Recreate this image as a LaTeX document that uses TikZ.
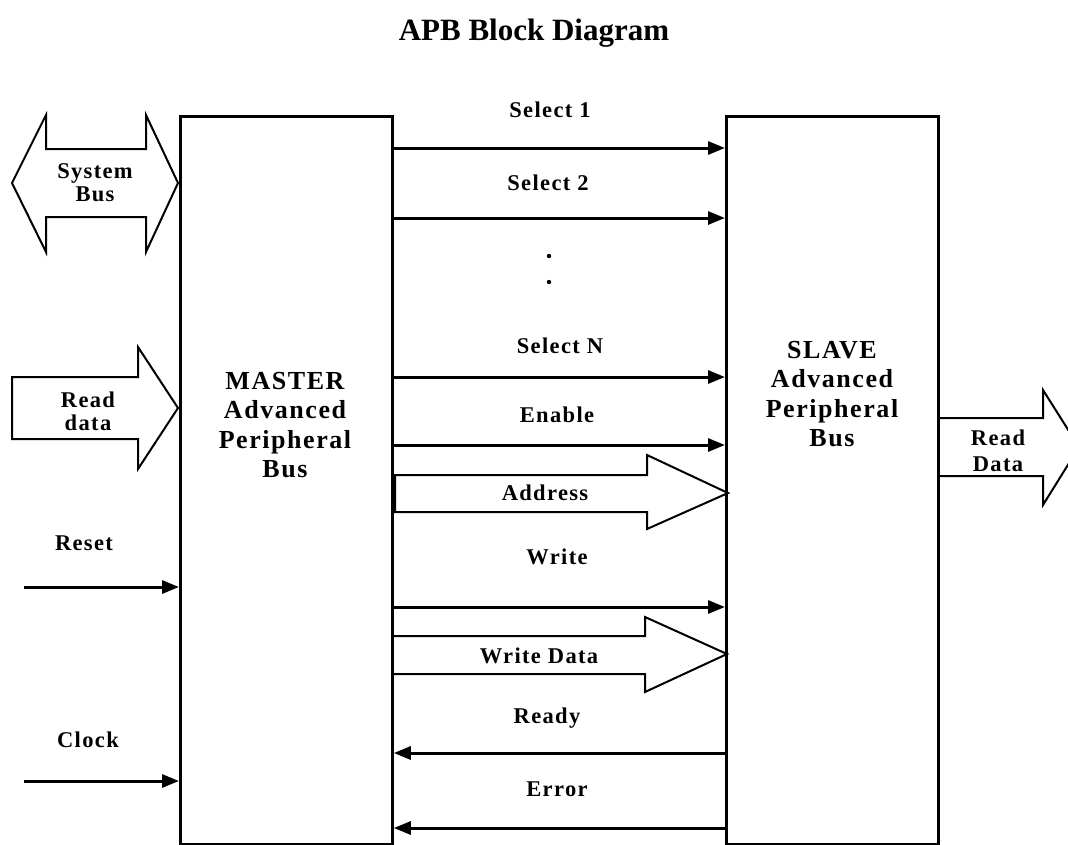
\documentclass[tikz,border=0pt]{standalone}
\usepackage{fontspec}
\setmainfont{Liberation Serif}
\usetikzlibrary{arrows.meta}

\tikzset{
  blockbox/.style={draw, line width=2.8pt, minimum width=212pt, minimum height=728pt,
    inner sep=0pt, anchor=north west},
  sig/.style={line width=3pt, -{Triangle[length=17pt,width=13pt]}},
  fatarrow/.style={draw, line width=2pt, line join=miter},
  lbl/.style={font=\fontsize{22.5}{23}\selectfont\bfseries\addfontfeature{LetterSpace=6},
    align=center, inner sep=0pt},
  blocktext/.style={font=\fontsize{26}{29.5}\selectfont\bfseries\addfontfeature{LetterSpace=6},
    align=center, inner sep=0pt}
}

\begin{document}
\begin{tikzpicture}[x=1pt,y=-1pt]
  \useasboundingbox (0,0) rectangle (1068,844);
  \clip (0,0) rectangle (1068,844);

  \node[font=\fontsize{31}{36}\selectfont\bfseries] (title) at (534,33) {APB Block Diagram};

  % the two blocks
  \node[blockbox] (master) at (179,115) {};
  \node[blockbox] (slave) at (725,115) {};
  \node[blocktext] (mastertext) at (285,425) {MASTER\\Advanced\\Peripheral\\Bus};
  \node[blocktext] (slavetext) at (832,394) {SLAVE\\Advanced\\Peripheral\\Bus};

  % bus arrows
  \draw[fatarrow] (12,183) -- (46,115) -- (46,149) -- (146,149) -- (146,115) -- (178,183)
    -- (146,252) -- (146,217) -- (46,217) -- (46,252) -- cycle;
  \node[lbl] (sysbus) at (95,183) {System\\Bus};
  \draw[fatarrow] (12,377) -- (138,377) -- (138,347) -- (178,408) -- (138,469) -- (138,439)
    -- (12,439) -- cycle;
  \node[lbl] (rdin) at (88,411) {Read\\data};
  \draw[fatarrow] (395,475) -- (647,475) -- (647,455) -- (728,493) -- (647,529) -- (647,512)
    -- (395,512) -- cycle;
  \node[lbl] (addr) at (545,493) {Address};
  \draw[fatarrow] (391,636) -- (645,636) -- (645,617) -- (727,654) -- (645,692) -- (645,674)
    -- (391,674);
  \node[lbl] (wdata) at (539,656) {Write Data};
  \draw[fatarrow] (937,418) -- (1043,418) -- (1043,390) -- (1079,447) -- (1043,505) -- (1043,476)
    -- (937,476);
  \node[lbl, font=\fontsize{22.5}{26}\selectfont\bfseries\addfontfeature{LetterSpace=6}]
    (rdout) at (998,451) {Read\\Data};

  % signals master -> slave
  \foreach \yy in {148,218,377,445,607}
    \draw[sig] (master.east |- 0,\yy) -- (slave.west |- 0,\yy);
  % signals slave -> master
  \foreach \yy in {753,828}
    \draw[sig] (slave.west |- 0,\yy) -- (master.east |- 0,\yy);

  \node[lbl] (sel1) at (550,110) {Select 1};
  \node[lbl] (sel2) at (548,183) {Select 2};
  \fill (549,256) circle (2.2pt) (549,282) circle (2.2pt);
  \node[lbl] (seln) at (560,346) {Select N};
  \node[lbl] (enable) at (557,415) {Enable};
  \node[lbl] (write) at (557,557) {Write};
  \node[lbl] (ready) at (547,718) {Ready};
  \node[lbl] (error) at (557,789) {Error};

  % inputs of the master
  \coordinate (rst) at (24,587);
  \coordinate (clk) at (24,781);
  \draw[sig] (rst) -- (master.west |- rst);
  \draw[sig] (clk) -- (master.west |- clk);
  \node[lbl] (reset) at (84,543) {Reset};
  \node[lbl] (clock) at (88,740) {Clock};
\end{tikzpicture}
\end{document}
